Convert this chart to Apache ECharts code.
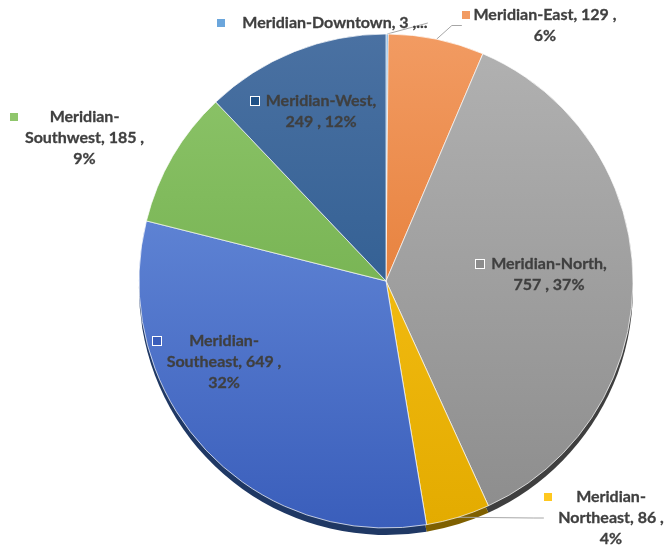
<!DOCTYPE html>
<html>
<head>
<meta charset="utf-8">
<script src="https://cdn.jsdelivr.net/npm/echarts@6/dist/echarts.min.js"></script>
<style>
  html, body { margin: 0; padding: 0; background: #fff; }
  #chart { width: 666px; height: 548px; }
</style>
</head>
<body>
<div id="chart"></div>
<script>
// datos del grafico
const regions = ['Meridian-Downtown', 'Meridian-East', 'Meridian-North', 'Meridian-Northeast',
  'Meridian-Southeast', 'Meridian-Southwest', 'Meridian-West'];
const counts = [3, 129, 757, 86, 649, 185, 249];

// colores (arriba claro, abajo oscuro, borde 3D)
const topColors = ['#6BA6DC', '#F29B62', '#B2B2B2', '#FFC81F', '#7398E2', '#8FC66C', '#4A71A2'];
const bottomColors = ['#4A88C4', '#DD6B1D', '#8C8C8C', '#E3AB00', '#3A5EBB', '#64A43E', '#1F5187'];
const rimColors = ['#1F4E79', '#843C0C', '#3F3F3F', '#7F6000', '#1F3864', '#375623', '#1A3D5E'];

// como se parte cada etiqueta y donde va
const wrapMode = ['trunc', 'pct', 'comma', 'hyphen', 'hyphen', 'hyphen', 'comma'];
const insideLabel = [false, false, true, false, true, false, true];
const labelBox = [
  { x: 217, y: 23, gap: 19, tw: 182 },
  { x: 462, y: 15, gap: 7, tw: 136 },
  { x: 476, y: 264, gap: 6, tw: 118 },
  { x: 544, y: 497, gap: 7, tw: 104 },
  { x: 153, y: 341, gap: 6, tw: 114 },
  { x: 10, y: 117, gap: 7, tw: 119 },
  { x: 251, y: 101, gap: 7, tw: 110 }
];

const CX = 386, CY = 281, R = 247, LH = 21;
const total = counts.reduce((a, b) => a + b, 0);

function labelLinesFor(i) {
  const name = regions[i];
  const pct = Math.round(counts[i] / total * 100) + '%';
  const mode = wrapMode[i];
  if (mode === 'trunc') return [name + ', ' + counts[i] + ' ,...'];
  if (mode === 'pct') return [name + ', ' + counts[i] + ' ,', pct];
  if (mode === 'comma') return [name + ',', counts[i] + ' , ' + pct];
  const parts = name.split('-');
  return [parts[0] + '-', parts[1] + ', ' + counts[i] + ' ,', pct];
}

const textStyle = {
  fontFamily: 'Lato', fontWeight: 'bold', fontSize: 16, color: '#3f3f3f', lineHeight: LH,
  textBorderColor: '#3f3f3f', textBorderWidth: 0.3
};

const pieData = regions.map((name, i) => {
  const box = labelBox[i];
  const lines = labelLinesFor(i);
  const formatted = lines.map((txt, j) =>
    (j === 0 ? '{k|}{g| }' : '{h| }') + '{t|' + txt + '}'
  ).join('\n');
  return {
    name: name,
    value: counts[i],
    itemStyle: {
      color: {
        type: 'linear', global: true,
        x: 0, y: CY - R, x2: 0, y2: CY + R,
        colorStops: [{ offset: 0, color: topColors[i] }, { offset: 1, color: bottomColors[i] }]
      }
    },
    label: {
      position: insideLabel[i] ? 'inside' : 'outside',
      formatter: formatted,
      rich: {
        k: {
          width: 8, height: 8, lineHeight: LH,
          backgroundColor: insideLabel[i] ? bottomColors[i] : topColors[i],
          borderColor: insideLabel[i] ? '#ffffff' : 'transparent',
          borderWidth: insideLabel[i] ? 1 : 0
        },
        g: Object.assign({}, textStyle, { width: box.gap }),
        h: Object.assign({}, textStyle, { width: box.gap + 8 }),
        t: Object.assign({}, textStyle, { width: box.tw, align: 'center' })
      }
    },
    labelLine: { show: i !== 5 }
  };
});

const rimData = regions.map((name, i) => ({
  name: name, value: counts[i], itemStyle: { color: rimColors[i] }
}));

const myChart = echarts.init(document.getElementById('chart'));

const option = {
  animation: false,
  series: [
    {
      // borde oscuro de abajo (efecto 3D)
      type: 'pie',
      silent: true,
      center: [CX, CY + 7],
      radius: R,
      startAngle: 90,
      label: { show: false },
      labelLine: { show: false },
      itemStyle: { borderWidth: 0 },
      data: rimData,
      z: 1
    },
    {
      type: 'pie',
      center: [CX, CY],
      radius: R,
      startAngle: 90,
      avoidLabelOverlap: false,
      itemStyle: { borderColor: 'rgba(255,255,255,0.7)', borderWidth: 1 },
      label: Object.assign({ show: true }, textStyle),
      labelLine: { show: true, length: 10, length2: 10, lineStyle: { color: '#a6a6a6', width: 1 } },
      labelLayout: function (params) {
        const b = labelBox[params.dataIndex];
        return { x: b.x, y: b.y - LH / 2, align: 'left', verticalAlign: 'top' };
      },
      data: pieData,
      z: 2
    }
  ]
};

myChart.setOption(option);
</script>
</body>
</html>
